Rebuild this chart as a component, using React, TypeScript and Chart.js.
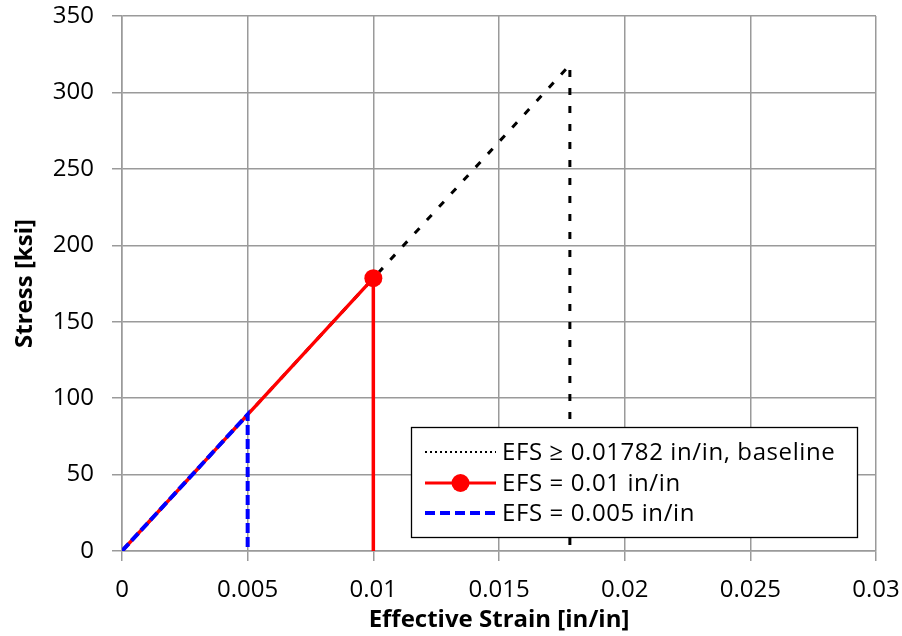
import React, { useEffect, useRef } from "react";
import { Chart, registerables } from "chart.js";

Chart.register(...registerables);

const baselineStrain = [0, 0.01782, 0.01782];
const baselineStress = [0, 318, 0];
const efs01Strain = [0, 0.01, 0.01];
const efs01Stress = [0, 178.5, 0];
const efs005Strain = [0, 0.005, 0.005];
const efs005Stress = [0, 89.3, 0];

const seriesLabels = [
  "EFS \u2265 0.01782 in/in, baseline",
  "EFS = 0.01 in/in",
  "EFS = 0.005 in/in",
];
const xTicks = [0, 0.005, 0.01, 0.015, 0.02, 0.025, 0.03];
const yTicks = [0, 50, 100, 150, 200, 250, 300, 350];
const xTitle = "Effective Strain [in/in]";
const yTitle = "Stress [ksi]";

const FONT = "'Open Sans', Lato, sans-serif";
const FS = 24;

const toPts = (xs: number[], ys: number[]) => xs.map((x, i) => ({ x, y: ys[i] }));

const legendPlugin = {
  id: "customLegend",
  afterDraw(chart: any) {
    const ctx = chart.ctx as CanvasRenderingContext2D;
    const bx = 411, by = 427, bw = 446, bh = 110;
    ctx.save();
    ctx.fillStyle = "#fff";
    ctx.fillRect(bx, by, bw, bh);
    ctx.strokeStyle = "#000";
    ctx.lineWidth = 1.3;
    ctx.strokeRect(bx + 0.5, by + 0.5, bw, bh);
    const rows = [by + 25, by + 56, by + 86];
    const lx0 = bx + 14, lx1 = bx + 85;
    ctx.font = `${FS}px ${FONT}`;
    ctx.textBaseline = "middle";
    ctx.strokeStyle = "#000";
    ctx.lineWidth = 2;
    ctx.setLineDash([2, 3]);
    ctx.beginPath();
    ctx.moveTo(lx0, rows[0]);
    ctx.lineTo(lx1, rows[0]);
    ctx.stroke();
    ctx.setLineDash([]);
    ctx.strokeStyle = "#ff0000";
    ctx.lineWidth = 3;
    ctx.beginPath();
    ctx.moveTo(lx0, rows[1]);
    ctx.lineTo(lx1, rows[1]);
    ctx.stroke();
    ctx.fillStyle = "#ff0000";
    ctx.beginPath();
    ctx.arc((lx0 + lx1) / 2, rows[1], 9, 0, Math.PI * 2);
    ctx.fill();
    ctx.strokeStyle = "#0000ff";
    ctx.lineWidth = 4;
    ctx.setLineDash([10, 5]);
    ctx.beginPath();
    ctx.moveTo(lx0, rows[2]);
    ctx.lineTo(lx1, rows[2]);
    ctx.stroke();
    ctx.setLineDash([]);
    ctx.fillStyle = "#000";
    (ctx as any).letterSpacing = "0.6px";
    seriesLabels.forEach((t, i) => ctx.fillText(t, lx1 + 6, rows[i] + 1));
    ctx.restore();
  },
};

export default function App() {
  const ref = useRef<HTMLCanvasElement>(null);
  useEffect(() => {
    document.body.style.margin = "0";
    const chart = new Chart(ref.current!, {
      type: "scatter",
      data: {
        datasets: [
          {
            label: seriesLabels[2],
            data: toPts(efs005Strain, efs005Stress),
            showLine: true,
            borderColor: "#0000ff",
            borderWidth: 4,
            borderDash: [10, 4],
            pointRadius: 0,
            order: 0,
          },
          {
            label: seriesLabels[1],
            data: toPts(efs01Strain, efs01Stress),
            showLine: true,
            borderColor: "#ff0000",
            backgroundColor: "#ff0000",
            borderWidth: 3.5,
            pointRadius: [0, 9, 0],
            pointBorderWidth: 0,
            order: 1,
          },
          {
            label: seriesLabels[0],
            data: toPts(baselineStrain, baselineStress),
            showLine: true,
            borderColor: "#000",
            borderWidth: 3,
            borderDash: [7, 11],
            pointRadius: 0,
            order: 2,
          },
        ],
      },
      options: {
        animation: false,
        responsive: false,
        layout: { padding: { top: 16, right: 26, left: 0, bottom: 0 } },
        plugins: { legend: { display: false }, tooltip: { enabled: false } },
        scales: {
          x: {
            type: "linear",
            min: 0,
            max: 0.03,
            afterBuildTicks: (s: any) => {
              s.ticks = xTicks.map((v) => ({ value: v }));
            },
            afterFit: (s: any) => {
              s.height = 85;
              s.paddingLeft = 0;
              s.paddingRight = 0;
            },
            ticks: {
              color: "#000",
              font: { family: FONT, size: FS },
              padding: 15,
              maxRotation: 0,
              callback: (v: any) => String(Number(v)),
            },
            grid: { color: "#9a9a9a", lineWidth: 1.5, tickLength: 10 },
            border: { color: "#9a9a9a", width: 1.5 },
            title: {
              display: true,
              text: xTitle,
              color: "#000",
              font: { family: FONT, size: FS, weight: "bold" },
              padding: { top: 0, bottom: 1 },
            },
          },
          y: {
            type: "linear",
            min: 0,
            max: 350,
            afterBuildTicks: (s: any) => {
              s.ticks = yTicks.map((v) => ({ value: v }));
            },
            afterFit: (s: any) => {
              s.width = 122;
              s.paddingTop = 0;
              s.paddingBottom = 0;
            },
            ticks: {
              color: "#000",
              font: { family: FONT, size: FS },
              padding: 18,
            },
            grid: { color: "#9a9a9a", lineWidth: 1.5, tickLength: 10 },
            border: { color: "#9a9a9a", width: 1.5 },
            title: {
              display: true,
              text: yTitle,
              color: "#000",
              font: { family: FONT, size: FS, weight: "bold" },
              padding: { top: 11, bottom: 0 },
            },
          },
        },
      },
      plugins: [legendPlugin],
    });
    return () => chart.destroy();
  }, []);
  return <canvas ref={ref} width={902} height={636} style={{ display: "block" }} />;
}
